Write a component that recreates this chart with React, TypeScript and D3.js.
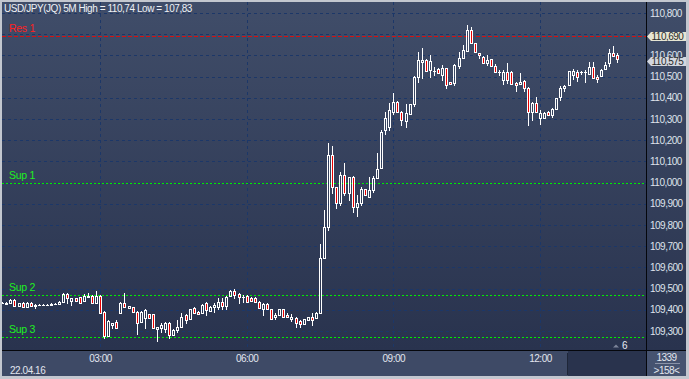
import React from 'react';
import * as d3 from 'd3';

const title = 'USD/JPY(JQ) 5M High = 110,74 Low = 107,83';
const dateLabel = '22.04.16';
const firstBar = '2016-04-22T01:00:00Z';
const lastBar = '2016-04-22T13:35:00Z';

const opens = [
  109.432,109.428,109.434,109.446,109.420,109.432,109.412,109.433,109.416,109.424,
  109.422,109.424,109.423,109.428,109.426,109.436,109.475,109.443,109.455,109.459,
  109.443,109.460,109.465,109.431,109.465,109.391,109.278,109.326,109.344,109.384,
  109.431,109.407,109.412,109.391,109.344,109.360,109.379,109.379,109.310,109.313,
  109.308,109.336,109.281,109.305,109.318,109.376,109.355,109.407,109.391,109.384,
  109.431,109.396,109.412,109.415,109.439,109.418,109.465,109.491,109.475,109.462,
  109.465,109.457,109.457,109.439,109.402,109.426,109.402,109.365,109.376,109.402,
  109.376,109.358,109.363,109.349,109.333,109.352,109.365,109.360,109.383,109.646,
  109.789,110.130,109.978,109.905,110.036,109.952,110.028,109.883,109.905,109.968,
  109.934,109.965,110.020,110.067,110.248,110.264,110.335,110.379,110.335,110.291,
  110.322,110.369,110.500,110.567,110.578,110.531,110.527,110.536,110.508,110.539,
  110.473,110.468,110.552,110.589,110.621,110.720,110.657,110.610,110.594,110.563,
  110.581,110.550,110.523,110.484,110.523,110.523,110.471,110.465,110.479,110.448,
  110.335,110.377,110.303,110.303,110.335,110.319,110.346,110.405,110.445,110.460,
  110.508,110.523,110.523,110.523,110.512,110.547,110.500,110.503,110.534,110.563,
  110.610,110.602,
];
const highs = [
  109.435,109.437,109.452,109.449,109.434,109.436,109.436,109.436,109.428,109.426,
  109.426,109.426,109.430,109.432,109.440,109.478,109.478,109.457,109.458,109.462,
  109.475,109.478,109.468,109.491,109.470,109.392,109.352,109.340,109.350,109.435,
  109.478,109.418,109.415,109.394,109.394,109.402,109.382,109.382,109.321,109.336,
  109.344,109.344,109.310,109.352,109.384,109.380,109.405,109.412,109.396,109.425,
  109.439,109.418,109.431,109.454,109.454,109.465,109.494,109.497,109.478,109.470,
  109.468,109.462,109.461,109.442,109.430,109.430,109.405,109.387,109.405,109.405,
  109.387,109.380,109.368,109.352,109.358,109.368,109.387,109.390,109.710,109.871,
  110.185,110.173,109.980,110.051,110.091,110.025,110.030,109.941,109.981,109.972,
  110.028,110.031,110.141,110.248,110.335,110.374,110.421,110.385,110.338,110.369,
  110.372,110.505,110.618,110.637,110.582,110.602,110.547,110.540,110.555,110.542,
  110.476,110.560,110.618,110.649,110.743,110.736,110.660,110.612,110.597,110.602,
  110.584,110.560,110.531,110.531,110.563,110.526,110.476,110.519,110.482,110.450,
  110.382,110.402,110.342,110.333,110.338,110.350,110.400,110.456,110.460,110.528,
  110.534,110.531,110.528,110.531,110.570,110.570,110.508,110.535,110.570,110.628,
  110.642,110.610,
];
const lows = [
  109.428,109.425,109.430,109.418,109.418,109.410,109.410,109.414,109.410,109.420,
  109.420,109.421,109.420,109.424,109.424,109.432,109.432,109.424,109.438,109.430,
  109.439,109.455,109.433,109.428,109.380,109.266,109.275,109.313,109.310,109.380,
  109.410,109.402,109.390,109.286,109.340,109.313,109.358,109.310,109.253,109.297,
  109.297,109.266,109.275,109.297,109.313,109.340,109.350,109.380,109.376,109.380,
  109.376,109.392,109.391,109.402,109.402,109.402,109.462,109.454,109.434,109.439,
  109.437,109.440,109.436,109.405,109.376,109.398,109.352,109.355,109.372,109.362,
  109.363,109.349,109.321,109.321,109.330,109.348,109.329,109.355,109.380,109.640,
  109.776,109.952,109.879,109.894,109.941,109.918,109.863,109.842,109.894,109.937,
  109.926,109.958,110.018,110.062,110.228,110.248,110.322,110.330,110.272,110.264,
  110.318,110.360,110.476,110.492,110.523,110.500,110.508,110.513,110.484,110.445,
  110.462,110.462,110.540,110.586,110.615,110.652,110.612,110.590,110.563,110.555,
  110.545,110.520,110.508,110.465,110.470,110.463,110.434,110.460,110.434,110.272,
  110.295,110.327,110.276,110.300,110.318,110.311,110.342,110.390,110.434,110.458,
  110.487,110.481,110.512,110.476,110.508,110.487,110.476,110.500,110.530,110.550,
  110.594,110.570,
];
const closes = [
  109.430,109.434,109.446,109.420,109.430,109.412,109.433,109.416,109.424,109.422,
  109.424,109.423,109.428,109.426,109.436,109.475,109.456,109.454,109.441,109.431,
  109.465,109.465,109.434,109.465,109.384,109.278,109.349,109.336,109.313,109.431,
  109.412,109.418,109.391,109.336,109.391,109.399,109.360,109.313,109.318,109.329,
  109.340,109.281,109.305,109.318,109.368,109.352,109.402,109.384,109.379,109.423,
  109.399,109.415,109.423,109.439,109.418,109.462,109.491,109.470,109.459,109.461,
  109.439,109.443,109.439,109.407,109.428,109.402,109.355,109.376,109.402,109.365,
  109.365,109.368,109.340,109.333,109.355,109.365,109.352,109.384,109.643,109.789,
  110.130,109.978,109.902,110.036,109.952,110.025,109.883,109.905,109.968,109.940,
  109.965,110.020,110.062,110.240,110.303,110.343,110.379,110.335,110.295,110.327,
  110.369,110.500,110.578,110.578,110.526,110.574,110.526,110.515,110.539,110.460,
  110.464,110.555,110.589,110.626,110.720,110.657,110.615,110.600,110.566,110.578,
  110.550,110.523,110.524,110.523,110.484,110.465,110.460,110.476,110.445,110.335,
  110.374,110.335,110.327,110.330,110.319,110.346,110.397,110.445,110.456,110.528,
  110.528,110.500,110.524,110.522,110.547,110.492,110.487,110.531,110.555,110.610,
  110.598,110.581,
];

const priceTicks = [109.3, 109.4, 109.5, 109.6, 109.7, 109.8, 109.9, 110.0, 110.1, 110.2, 110.3, 110.4, 110.5, 110.6, 110.7, 110.8];
const timeTicks = ['2016-04-22T03:00:00Z', '2016-04-22T06:00:00Z', '2016-04-22T09:00:00Z', '2016-04-22T12:00:00Z'];
const levelNames = ['Res 1', 'Sup 1', 'Sup 2', 'Sup 3'];
const levelValues = [110.69, 110.0, 109.47, 109.273];
const levelKinds = ['res', 'sup', 'sup', 'sup'];
const lastPrice = 110.575;
const resPrice = 110.69;
const barCountLabel = '1339';
const visibleLabel = '>158<';
const markerLabel = '6';

const W = 689;
const H = 379;
const PL = 2, PR = 646, PT = 2, PB = 350;
const FONT = '"Liberation Sans", Arial, sans-serif';

export default function App() {
  const times = d3.utcMinute.every(5)!.range(new Date(firstBar), new Date(new Date(lastBar).getTime() + 1));
  const x = d3.scaleUtc()
    .domain([new Date(timeTicks[0]), new Date(timeTicks[3])])
    .range([100, 540]);
  const y = d3.scaleLinear().domain([109.3, 110.8]).range([331, 13]);
  const fmtPrice = (v: number) => d3.format('.3f')(v).replace('.', ',');
  const fmtTime = d3.utcFormat('%H:%M');

  const candles = times.map((t, i) => {
    const o = opens[i], h = highs[i], l = lows[i], c = closes[i];
    const cx = Math.round(x(t));
    const L = cx - 1;
    const T = Math.round(y(Math.max(o, c)));
    const B = Math.round(y(Math.min(o, c)));
    const yh = Math.round(y(h));
    const yl = Math.round(y(l));
    const bear = c < o;
    return (
      <g key={i}>
        {yh < T && <line x1={L + 1.5} x2={L + 1.5} y1={yh} y2={T} stroke="#ffffff" strokeWidth={1} />}
        {yl > B + 1 && <line x1={L + 1.5} x2={L + 1.5} y1={B + 1} y2={yl + 1} stroke="#ffffff" strokeWidth={1} />}
        {B - T >= 1 ? (
          <rect x={L + 0.5} y={T + 0.5} width={2} height={B - T} fill={bear ? '#e80000' : 'none'} stroke="#ffffff" strokeWidth={1} />
        ) : (
          <line x1={L} x2={L + 3} y1={T + 0.5} y2={T + 0.5} stroke="#ffffff" strokeWidth={1} />
        )}
      </g>
    );
  });

  const yPx = (v: number) => Math.round(y(v)) + 0.5;
  const resY = yPx(resPrice);
  const lastY = yPx(lastPrice);
  // axis labels fully hidden behind the price boxes are not drawn
  const axisLabels = priceTicks.filter((p) => Math.abs(y(p) - y(resPrice)) > 4 && Math.abs(y(p) - y(lastPrice)) > 4);

  return (
    <svg width={W} height={H} style={{ position: 'absolute', left: 0, top: 0, display: 'block' }} fontFamily={FONT}>
      <defs>
        <linearGradient id="bg" x1="0" y1="0" x2="0" y2="1">
          <stop offset="0" stopColor="#404d69" />
          <stop offset="1" stopColor="#29334e" />
        </linearGradient>
        <clipPath id="plotClip">
          <rect x={PL} y={PT} width={PR - PL} height={PB - PT} />
        </clipPath>
      </defs>
      <rect x={0} y={0} width={W} height={H} fill="#c3c7cf" />
      <rect x={PL} y={PT} width={686 - PL} height={PB - PT} fill="url(#bg)" />
      <rect x={PL} y={PB} width={686 - PL} height={376 - PB} fill="#3e4a66" />
      <rect x={568} y={PB + 1} width={PR - 568} height={376 - PB - 1} fill="#29334d" />
      <line x1={567.5} x2={567.5} y1={PB + 3} y2={375} stroke="#1e2638" />
      <rect x={PR + 1} y={PB + 1} width={686 - PR - 1} height={376 - PB - 1} fill="#465370" />

      <g clipPath="url(#plotClip)">
        {priceTicks.map((p) => (
          <line key={p} x1={PL} x2={PR} y1={yPx(p)} y2={yPx(p)} stroke="#1c3768" strokeDasharray="3,3" />
        ))}
        {timeTicks.map((t) => (
          <line key={t} x1={Math.round(x(new Date(t))) + 0.5} x2={Math.round(x(new Date(t))) + 0.5} y1={PT} y2={PB} stroke="#1c3768" strokeDasharray="3,3" />
        ))}
        {levelValues.map((v, i) => (
          <g key={levelNames[i]}>
            <line x1={PL} x2={PR} y1={yPx(v)} y2={yPx(v)} stroke={levelKinds[i] === 'res' ? '#d81010' : '#00ee00'} strokeDasharray={levelKinds[i] === 'res' ? '4,2' : '2,2'} />
            <text x={9} y={yPx(v) - 5} fontSize={10.5} letterSpacing={-0.3} fill={levelKinds[i] === 'res' ? '#ff2020' : '#20f020'}>{levelNames[i]}</text>
          </g>
        ))}
        {candles}
        <path d="M613,347.5 L619,347.5 L616,344.5 Z" fill="#7c849a" />
        <text x={622} y={349} fontSize={10} fill="#e6eaf2">{markerLabel}</text>
      </g>

      <text x={4} y={11.5} fontSize={10} letterSpacing={-0.44} fill="#eef1f6">{title}</text>

      <line x1={PR + 0.5} x2={PR + 0.5} y1={PT} y2={376} stroke="#05070c" />
      <line x1={PL} x2={686} y1={PB + 0.5} y2={PB + 0.5} stroke="#05070c" />

      {axisLabels.map((p) => (
        <text key={p} x={650} y={y(p) + 3.6} fontSize={10} letterSpacing={-0.5} fill="#dfe3ec">{fmtPrice(p)}</text>
      ))}

      <path d={`M647,${resY} L651,${resY - 4.5} L686,${resY - 4.5} L686,${resY + 4.5} L651,${resY + 4.5} Z`} fill="#e6e5d3" />
      <text x={651.5} y={resY + 3.6} fontSize={10} letterSpacing={-0.5} fill="#2a2a2a">{fmtPrice(resPrice)}</text>
      <path d={`M647,${lastY} L651,${lastY - 4.5} L686,${lastY - 4.5} L686,${lastY + 4.5} L651,${lastY + 4.5} Z`} fill="#d3d7df" />
      <text x={651.5} y={lastY + 3.6} fontSize={10} letterSpacing={-0.5} fill="#2a2a2a">{fmtPrice(lastPrice)}</text>

      {timeTicks.map((t) => (
        <text key={t} x={x(new Date(t)) + 0.5} y={362} fontSize={10} letterSpacing={-0.5} textAnchor="middle" fill="#e2e6ee">{fmtTime(new Date(t))}</text>
      ))}
      <text x={10} y={373.5} fontSize={10} letterSpacing={-0.45} fill="#e2e6ee">{dateLabel}</text>

      <text x={666.5} y={361} fontSize={10} letterSpacing={-0.5} textAnchor="middle" fill="#e2e6ee">{barCountLabel}</text>
      <line x1={655} x2={680} y1={363.5} y2={363.5} stroke="#8a93a8" />
      <text x={666.5} y={373.5} fontSize={10} letterSpacing={-0.5} textAnchor="middle" fill="#e2e6ee">{visibleLabel}</text>
    </svg>
  );
}
